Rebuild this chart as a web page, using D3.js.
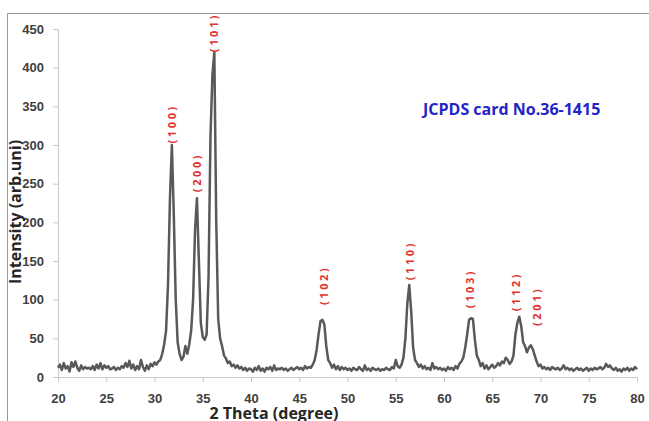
<!DOCTYPE html>
<html>
<head>
<meta charset="utf-8">
<script src="https://cdn.jsdelivr.net/npm/d3@7"></script>
<style>
  body { margin: 0; background: #fff; }
  svg { display: block; font-family: "Open Sans", "Liberation Sans", sans-serif; }
</style>
</head>
<body>
<div id="chart"></div>
<script>
// XRD scan, 2 theta from 20 to 80 degree, step 0.2
var startAngle = 20, stepAngle = 0.2;
var intensity = [
  12,16,9,18,11,  14,7,19,13,20,  12,8,15,10,13,  11,12,10,14,9,  16,11,18,10,15,   // 20-24
  12,14,10,11,13,  9,12,10,14,12,  18,13,21,11,16,  9,14,10,22,13,  8,15,10,17,14,  // 25-29
  19,16,20,22,30,  42,60,120,230,300,  210,100,45,30,22,  26,40,30,42,60,  100,190,231,150,70, // 30-34
  52,48,55,130,310,  390,420,200,75,50,  40,28,24,18,20,  14,16,12,15,11,  13,9,12,8,11, // 35-39
  10,7,12,9,14,  8,11,7,12,10,  13,8,15,9,11,  10,12,9,11,8,  10,12,9,11,13,       // 40-44
  10,12,9,14,11,  13,12,16,22,35,  55,72,74,68,40,  22,18,12,16,10,  14,9,13,10,12, // 45-49
  9,11,8,12,10,  9,13,10,8,15,  9,11,8,12,10,  9,11,8,10,9,  12,10,9,13,11,        // 50-54
  22,14,12,16,25,  50,95,119,85,38,  22,18,13,16,11,  14,10,12,9,18,  11,13,10,12,9, // 55-59
  11,8,13,10,12,  9,14,11,17,20,  25,38,55,74,76,  75,48,28,22,14,  18,11,15,10,13, // 60-64
  16,12,14,18,15,  20,18,25,22,17,  20,28,55,70,78,  66,45,40,32,38,  41,36,28,20,14, // 65-69
  16,11,13,10,12,  9,13,11,10,12,  9,11,15,10,12,  9,11,8,10,12,  9,11,8,10,12,   // 70-74
  8,11,9,12,10,  11,13,10,12,17,  13,15,11,9,12,  8,10,7,11,9,  12,8,11,9,13,      // 75-79
  10                                                                                 // 80
];

var peakNames = ["(100)", "(200)", "(101)", "(102)", "(110)", "(103)", "(112)", "(201)"];
var peakAngles = [31.8, 34.4, 36.1, 47.5, 56.4, 62.6, 67.4, 69.6];
var peakLabelBase = [302, 239, 420, 93, 125, 89, 85, 66];

var xTicks = [20, 25, 30, 35, 40, 45, 50, 55, 60, 65, 70, 75, 80];
var yTicks = [0, 50, 100, 150, 200, 250, 300, 350, 400, 450];

var cardText = "JCPDS card No.36-1415";
var xTitle = "2 Theta (degree)";
var yTitle = "Intensity (arb.uni)";

var W = 649, H = 421;
var svg = d3.select("#chart").append("svg")
  .attr("width", W)
  .attr("height", H);

var x = d3.scaleLinear().domain([20, 80]).range([58, 637]);
var y = d3.scaleLinear().domain([0, 450]).range([377, 29]);

// outer frame (top and left edges visible)
svg.append("path")
  .attr("d", "M7.5," + H + "V13.5H" + W)
  .attr("fill", "none")
  .attr("stroke", "#9a9a9a")
  .attr("stroke-width", 1);

// y axis
var gy = svg.append("g")
  .attr("transform", "translate(" + x.range()[0] + ",0)")
  .call(d3.axisLeft(y).tickValues(yTicks).tickSize(5).tickPadding(9));
gy.selectAll("path, line").attr("stroke", "#c8c8c8");
gy.selectAll("text")
  .attr("fill", "#404040")
  .style("font-size", "13px")
  .style("font-weight", "bold");

// x axis
var gx = svg.append("g")
  .attr("transform", "translate(0," + y(0) + ")")
  .call(d3.axisBottom(x).tickValues(xTicks).tickSize(5).tickPadding(12));
gx.selectAll("path, line").attr("stroke", "#c8c8c8");
gx.selectAll("text")
  .attr("fill", "#404040")
  .style("font-size", "13px")
  .style("font-weight", "bold");

// pattern
var line = d3.line()
  .x(function(d, i) { return x(startAngle + i * stepAngle); })
  .y(function(d) { return y(d); });

svg.append("path")
  .datum(intensity)
  .attr("fill", "none")
  .attr("stroke", "#595959")
  .attr("stroke-width", 2.5)
  .attr("stroke-linejoin", "round")
  .attr("d", line);

// hkl labels
for (var i = 0; i < peakNames.length; i++) {
  var px = x(peakAngles[i]), py = y(peakLabelBase[i]);
  svg.append("text")
    .attr("transform", "translate(" + px + "," + py + ") rotate(-90)")
    .attr("dominant-baseline", "central")
    .attr("fill", "#e0302c")
    .style("font-size", "11px")
    .style("font-weight", "bold")
    .style("letter-spacing", "2.6px")
    .text(peakNames[i]);
}

// card note
svg.append("text")
  .attr("x", 423)
  .attr("y", 115)
  .attr("fill", "#2323c8")
  .style("font-size", "16px")
  .style("font-weight", "bold")
  .text(cardText);

// axis titles
svg.append("text")
  .attr("x", 274)
  .attr("y", 419)
  .attr("text-anchor", "middle")
  .attr("fill", "#262626")
  .style("font-size", "16px")
  .style("font-weight", "bold")
  .text(xTitle);

svg.append("text")
  .attr("transform", "translate(21,212) rotate(-90)")
  .attr("text-anchor", "middle")
  .attr("fill", "#262626")
  .style("font-size", "16px")
  .style("font-weight", "bold")
  .text(yTitle);
</script>
</body>
</html>
